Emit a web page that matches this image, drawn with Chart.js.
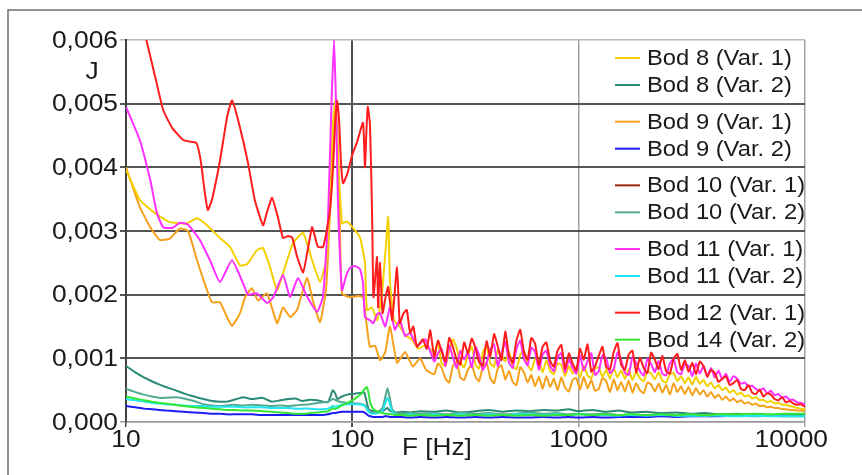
<!DOCTYPE html>
<html>
<head>
<meta charset="utf-8">
<script src="https://cdn.jsdelivr.net/npm/chart.js@4.4.1/dist/chart.umd.min.js"></script>
<style>
  html, body { margin: 0; padding: 0; background: #fff; }
  #wrap { width: 862px; height: 475px; }
</style>
</head>
<body>
<div id="wrap"><canvas id="spectrum" width="862" height="475"></canvas></div>
<script>
// axis ticks
const Y_TICKS = [0, 0.001, 0.002, 0.003, 0.004, 0.005, 0.006];
const X_TICKS = [10, 100, 1000, 10000];

const LABELS = [
    'Bod 8 (Var. 1)', 'Bod 8 (Var. 2)',
    'Bod 9 (Var. 1)', 'Bod 9 (Var. 2)',
    'Bod 10 (Var. 1)', 'Bod 10 (Var. 2)',
    'Bod 11 (Var. 1)', 'Bod 11 (Var. 2)',
    'Bod 12 (Var. 1)', 'Bod 14 (Var. 2)'
];
const COLORS = [
    '#f4d000', '#2a8a76',
    '#f6a11c', '#1c1cf2',
    '#9c2a10', '#52aa90',
    '#ff30ff', '#22e6f2',
    '#ff1c1c', '#36e636'
];
// drawing order, 0 = on top
const ORDER = [2, 8, 3, 9, 4, 7, 1, 6, 0, 5];

// shared grid for the noisy part of the loud series (Hz)
const HIGH_FREQ = [
    230, 239, 248, 258, 268, 278, 289, 300, 312, 324,
    337, 350, 363, 377, 392, 407, 423, 439, 456, 474,
    492, 511, 531, 552, 573, 595, 618, 642, 667, 693,
    720, 748, 777, 807, 838, 871, 905, 940, 976, 1014,
    1053, 1094, 1137, 1181, 1227, 1274, 1324, 1375, 1428, 1484,
    1541, 1601, 1663, 1728, 1795, 1864, 1937, 2012, 2090, 2171,
    2255, 2343, 2434, 2528, 2626, 2728, 2834, 2944, 3058, 3177,
    3300, 3428, 3561, 3699, 3843, 3992, 4147, 4308, 4475, 4649,
    4829, 5017, 5211, 5414, 5624, 5842, 6069, 6304, 6549, 6803,
    7067, 7342, 7627, 7923, 8230, 8550, 8882, 9226, 9584, 10000
];

// Bod 12 (Var. 1)
const RED_LOW_F = [
    10, 11, 12.3, 13.5, 14.6, 16, 17.9, 19.5, 20.5, 21.4,
    22.3, 23, 24, 26, 28, 29.4, 31.5, 34.6, 37, 40.3,
    42, 44.2, 47, 49.4, 52, 54.2, 57, 60.6, 63.5, 66.4,
    68.5, 70.5, 74.2, 77, 79.7, 82.2, 84, 85.8, 87.5, 89,
    91, 95, 100, 105, 111.5, 113.7, 115.5, 117, 119.5, 121,
    122.4, 124, 128.5, 130, 132.5, 136, 140, 144, 150, 157.5,
    162, 168, 174, 180, 186, 193, 205, 213, 221
];
const RED_LOW_J = [
    0.0072, 0.0067, 0.0060, 0.0054, 0.0049, 0.00462, 0.00443, 0.00440, 0.00438, 0.00410,
    0.00360, 0.00333, 0.00350, 0.00410, 0.00480, 0.00505, 0.00470, 0.00407, 0.00350, 0.00309,
    0.00330, 0.00352, 0.00320, 0.00289, 0.00292, 0.00290, 0.00260, 0.00235, 0.00270, 0.00306,
    0.00290, 0.00275, 0.00275, 0.00300, 0.00333, 0.00400, 0.00470, 0.00505, 0.00470, 0.00410,
    0.00375, 0.00390, 0.00420, 0.00440, 0.00470, 0.00400, 0.00460, 0.00495, 0.00470, 0.00400,
    0.00317, 0.00196, 0.00259, 0.00180, 0.00250, 0.00171, 0.00195, 0.00212, 0.00160, 0.00243,
    0.00155, 0.00170, 0.00176, 0.00140, 0.00150, 0.00118, 0.00130, 0.00115, 0.00144
];
const RED_HIGH_J = [
    0.00102, 0.00128, 0.00111, 0.00095, 0.00132, 0.00118, 0.00098, 0.00090, 0.00125, 0.00108,
    0.00131, 0.00116, 0.00094, 0.00089, 0.00127, 0.00103, 0.00138, 0.00119, 0.00097, 0.00142,
    0.00105, 0.00093, 0.00128, 0.00145, 0.00110, 0.00098, 0.00132, 0.00123, 0.00089, 0.00118,
    0.00125, 0.00096, 0.00087, 0.00112, 0.00121, 0.00084, 0.00108, 0.00092, 0.00081, 0.00115,
    0.00098, 0.00122, 0.00079, 0.00088, 0.00104, 0.00118, 0.00086, 0.00083, 0.00110, 0.00124,
    0.00090, 0.00082, 0.00106, 0.00112, 0.00078, 0.00101, 0.00085, 0.00077, 0.00109, 0.00098,
    0.00083, 0.00104, 0.00080, 0.00076, 0.00099, 0.00107, 0.00082, 0.00097, 0.00079, 0.00093,
    0.00075, 0.00095, 0.00088, 0.00071, 0.00082, 0.00077, 0.00063, 0.00068, 0.00072, 0.00058,
    0.00061, 0.00066, 0.00052, 0.00050, 0.00058, 0.00046, 0.00044, 0.00051, 0.00040, 0.00045,
    0.00043, 0.00036, 0.00034, 0.00039, 0.00031, 0.00033, 0.00029, 0.00027, 0.00028, 0.00024
];

// Bod 11 (Var. 1)
const MAG_LOW_F = [
    10, 11.5, 12.8, 13.7, 14.6, 16.1, 17.3, 18.8, 21.2, 23.5,
    26, 29.4, 32.9, 34.6, 37.9, 42, 44.6, 49.4, 53.1, 57.5,
    63.1, 69.8, 74.2, 78.1, 80.9, 83, 84.7, 86.3, 90, 94,
    97.7, 102.8, 108.1, 111.5, 113.7, 119.5, 123.6, 128.9, 132.6, 139.8,
    146.7, 154, 162, 171, 180, 193, 210
];
const MAG_LOW_J = [
    0.00495, 0.00443, 0.00380, 0.00328, 0.00306, 0.00305, 0.00313, 0.00310, 0.00286, 0.00254,
    0.00220, 0.00254, 0.00218, 0.00200, 0.00202, 0.00187, 0.00195, 0.00231, 0.00196, 0.00226,
    0.00197, 0.00173, 0.00197, 0.00322, 0.00500, 0.00600, 0.00500, 0.00350, 0.00207, 0.00230,
    0.00242, 0.00245, 0.00240, 0.00218, 0.00165, 0.00160, 0.00155, 0.00170, 0.00171, 0.00150,
    0.00180, 0.00145, 0.00160, 0.00135, 0.00140, 0.00120, 0.00130
];
const MAG_HIGH_J = [
    0.00095, 0.00108, 0.00115, 0.00088, 0.00120, 0.00102, 0.00085, 0.00112, 0.00098, 0.00110,
    0.00086, 0.00118, 0.00105, 0.00082, 0.00093, 0.00114, 0.00122, 0.00088, 0.00108, 0.00126,
    0.00094, 0.00085, 0.00115, 0.00128, 0.00099, 0.00089, 0.00117, 0.00110, 0.00082, 0.00106,
    0.00112, 0.00088, 0.00080, 0.00102, 0.00108, 0.00078, 0.00098, 0.00085, 0.00076, 0.00104,
    0.00081, 0.00095, 0.00108, 0.00074, 0.00080, 0.00105, 0.00100, 0.00077, 0.00083, 0.00109,
    0.00097, 0.00077, 0.00074, 0.00102, 0.00093, 0.00080, 0.00073, 0.00099, 0.00091, 0.00078,
    0.00096, 0.00076, 0.00073, 0.00092, 0.00099, 0.00078, 0.00075, 0.00091, 0.00088, 0.00072,
    0.00092, 0.00076, 0.00088, 0.00072, 0.00085, 0.00070, 0.00081, 0.00067, 0.00076, 0.00063,
    0.00072, 0.00068, 0.00060, 0.00062, 0.00056, 0.00057, 0.00052, 0.00049, 0.00053, 0.00045,
    0.00049, 0.00042, 0.00044, 0.00038, 0.00040, 0.00035, 0.00035, 0.00031, 0.00030, 0.00028
];

// Bod 8 (Var. 1)
const YEL_LOW_F = [
    10, 11.5, 13.2, 15.6, 18.6, 20.6, 22.8, 26, 28.8, 31.9,
    34.3, 37.9, 40.3, 43.3, 46.5, 49.4, 54.7, 60.6, 66.4, 72,
    77.3, 79.7, 82.2, 84.2, 86.3, 90, 94.8, 100, 108.1, 113.7,
    116, 122, 128.9, 135, 141, 144, 146.7, 152.7, 162, 173,
    183, 195, 210
];
const YEL_LOW_J = [
    0.00396, 0.00349, 0.00330, 0.00314, 0.00312, 0.00320, 0.00309, 0.00289, 0.00275, 0.00246,
    0.00248, 0.00270, 0.00273, 0.00243, 0.00207, 0.00234, 0.00281, 0.00297, 0.00254, 0.00220,
    0.00260, 0.00360, 0.00470, 0.00505, 0.00420, 0.00312, 0.00315, 0.00306, 0.00290, 0.00250,
    0.00176, 0.00180, 0.00160, 0.00200, 0.00280, 0.00322, 0.00220, 0.00160, 0.00150, 0.00135,
    0.00130, 0.00115, 0.00120
];
const YEL_HIGH_J = [
    0.00110, 0.00125, 0.00092, 0.00088, 0.00112, 0.00130, 0.00116, 0.00094, 0.00086, 0.00105,
    0.00118, 0.00090, 0.00084, 0.00109, 0.00120, 0.00092, 0.00087, 0.00113, 0.00104, 0.00095,
    0.00110, 0.00088, 0.00083, 0.00105, 0.00112, 0.00090, 0.00081, 0.00099, 0.00096, 0.00078,
    0.00097, 0.00080, 0.00075, 0.00092, 0.00090, 0.00072, 0.00088, 0.00076, 0.00086, 0.00070,
    0.00089, 0.00073, 0.00069, 0.00084, 0.00086, 0.00071, 0.00082, 0.00068, 0.00085, 0.00070,
    0.00081, 0.00068, 0.00083, 0.00066, 0.00079, 0.00069, 0.00064, 0.00080, 0.00076, 0.00067,
    0.00078, 0.00065, 0.00062, 0.00075, 0.00077, 0.00064, 0.00072, 0.00061, 0.00070, 0.00059,
    0.00071, 0.00060, 0.00066, 0.00056, 0.00062, 0.00053, 0.00058, 0.00050, 0.00054, 0.00046,
    0.00050, 0.00043, 0.00046, 0.00040, 0.00042, 0.00037, 0.00039, 0.00034, 0.00035, 0.00031,
    0.00033, 0.00029, 0.00030, 0.00027, 0.00027, 0.00025, 0.00024, 0.00022, 0.00021, 0.00020
];

// Bod 9 (Var. 1)
const ORG_LOW_F = [
    10, 11.5, 12.8, 14.1, 15.6, 17.3, 18.8, 20.6, 22.8, 24,
    26, 27.9, 29.4, 31.9, 33.6, 36, 38.3, 42, 46.5, 49.4,
    53.1, 57, 63.1, 67, 72, 76.6, 79.7, 82.2, 84.2, 85.8,
    87.6, 90, 97.7, 106, 111.5, 115, 119.5, 126, 132.6, 139.8,
    146.7, 157.5, 171, 185, 199, 212
];
const ORG_LOW_J = [
    0.00400, 0.00338, 0.00306, 0.00286, 0.00288, 0.00304, 0.00300, 0.00254, 0.00207, 0.00188,
    0.00188, 0.00165, 0.00151, 0.00171, 0.00196, 0.00210, 0.00191, 0.00202, 0.00155, 0.00180,
    0.00165, 0.00176, 0.00226, 0.00190, 0.00157, 0.00210, 0.00330, 0.00440, 0.00490, 0.00460,
    0.00350, 0.00202, 0.00196, 0.00198, 0.00196, 0.00160, 0.00118, 0.00120, 0.00097, 0.00110,
    0.00150, 0.00093, 0.00110, 0.00087, 0.00100, 0.00082
];
const ORG_HIGH_J = [
    0.00075, 0.00092, 0.00085, 0.00068, 0.00062, 0.00088, 0.00095, 0.00070, 0.00066, 0.00082,
    0.00090, 0.00071, 0.00064, 0.00086, 0.00093, 0.00069, 0.00061, 0.00084, 0.00089, 0.00067,
    0.00080, 0.00063, 0.00058, 0.00086, 0.00078, 0.00062, 0.00074, 0.00056, 0.00071, 0.00052,
    0.00072, 0.00055, 0.00068, 0.00050, 0.00070, 0.00054, 0.00048, 0.00066, 0.00069, 0.00051,
    0.00071, 0.00053, 0.00066, 0.00049, 0.00052, 0.00069, 0.00064, 0.00047, 0.00067, 0.00050,
    0.00063, 0.00048, 0.00065, 0.00046, 0.00061, 0.00050, 0.00045, 0.00062, 0.00059, 0.00048,
    0.00060, 0.00046, 0.00058, 0.00043, 0.00061, 0.00047, 0.00056, 0.00044, 0.00055, 0.00042,
    0.00053, 0.00043, 0.00050, 0.00040, 0.00047, 0.00038, 0.00043, 0.00035, 0.00040, 0.00033,
    0.00037, 0.00031, 0.00034, 0.00029, 0.00031, 0.00027, 0.00029, 0.00025, 0.00026, 0.00023,
    0.00024, 0.00022, 0.00022, 0.00020, 0.00020, 0.00019, 0.00019, 0.00018, 0.00018, 0.00017
];

// grid for the quiet (Var. 2) series (Hz)
const Q_FREQ = [
    10, 11, 12, 13, 14, 15, 16.5, 18, 20, 22,
    24, 26, 28, 30, 33, 36, 40, 44, 48, 52,
    56, 60, 65, 70, 74, 78, 80, 82, 84, 86,
    90, 95, 100, 105, 110, 113, 116, 118, 120, 124,
    130, 136, 140, 143, 146, 150, 156, 165, 180, 200,
    230, 260, 300, 350, 400, 460, 530, 610, 700, 800,
    900, 1000, 1150, 1300, 1500, 1700, 2000, 2300, 2700, 3100,
    3600, 4200, 5000, 6000, 7000, 8000, 9000, 10000
];
// Bod 8 (Var. 2)
const TEAL_J = [
    0.00088, 0.00078, 0.00070, 0.00064, 0.00059, 0.00055, 0.00050, 0.00045, 0.00040, 0.00036,
    0.00033, 0.00032, 0.00032, 0.00035, 0.00039, 0.00036, 0.00038, 0.00032, 0.00034, 0.00036,
    0.00037, 0.00033, 0.00035, 0.00034, 0.00032, 0.00031, 0.00040, 0.00050, 0.00045, 0.00036,
    0.00040, 0.00043, 0.00044, 0.00045, 0.00046, 0.00046, 0.00030, 0.00020, 0.00018, 0.00017,
    0.00016, 0.00017, 0.00020, 0.00022, 0.00018, 0.00016, 0.00015, 0.00016, 0.00015, 0.00017,
    0.00016, 0.00018, 0.00015, 0.00017, 0.00019, 0.00016, 0.00018, 0.00017, 0.00019, 0.00018,
    0.00020, 0.00017, 0.00019, 0.00016, 0.00018, 0.00015, 0.00016, 0.00014, 0.00015, 0.00013,
    0.00014, 0.00012, 0.00013, 0.00012, 0.00011, 0.00012, 0.00011, 0.00010
];
// Bod 10 (Var. 2)
const SEA_J = [
    0.00052, 0.00047, 0.00043, 0.00040, 0.00038, 0.00038, 0.00039, 0.00037, 0.00033, 0.00028,
    0.00026, 0.00025, 0.00026, 0.00027, 0.00026, 0.00027, 0.00026, 0.00025, 0.00026, 0.00025,
    0.00026, 0.00027, 0.00028, 0.00030, 0.00031, 0.00032, 0.00034, 0.00036, 0.00035, 0.00033,
    0.00031, 0.00030, 0.00030, 0.00029, 0.00028, 0.00027, 0.00022, 0.00018, 0.00016, 0.00015,
    0.00016, 0.00022, 0.00040, 0.00053, 0.00040, 0.00020, 0.00014, 0.00013, 0.00014, 0.00013,
    0.00014, 0.00012, 0.00015, 0.00013, 0.00014, 0.00012, 0.00013, 0.00015, 0.00013, 0.00014,
    0.00012, 0.00013, 0.00012, 0.00013, 0.00011, 0.00012, 0.00011, 0.00012, 0.00010, 0.00011,
    0.00010, 0.00011, 0.00010, 0.00009, 0.00010, 0.00009, 0.00009, 0.00009
];
// Bod 11 (Var. 2)
const CYAN_J = [
    0.00036, 0.00034, 0.00032, 0.00030, 0.00029, 0.00028, 0.00027, 0.00026, 0.00025, 0.00025,
    0.00024, 0.00024, 0.00024, 0.00024, 0.00023, 0.00023, 0.00023, 0.00022, 0.00022, 0.00022,
    0.00021, 0.00021, 0.00021, 0.00020, 0.00020, 0.00021, 0.00023, 0.00025, 0.00024, 0.00025,
    0.00027, 0.00028, 0.00028, 0.00028, 0.00027, 0.00026, 0.00020, 0.00016, 0.00014, 0.00013,
    0.00014, 0.00018, 0.00030, 0.00038, 0.00030, 0.00016, 0.00012, 0.00011, 0.00012, 0.00011,
    0.00012, 0.00011, 0.00012, 0.00011, 0.00012, 0.00011, 0.00012, 0.00012, 0.00011, 0.00012,
    0.00011, 0.00012, 0.00011, 0.00011, 0.00010, 0.00011, 0.00010, 0.00011, 0.00010, 0.00010,
    0.00010, 0.00010, 0.00009, 0.00010, 0.00009, 0.00009, 0.00009, 0.00009
];
// Bod 14 (Var. 2)
const GREEN_J = [
    0.00040, 0.00037, 0.00034, 0.00032, 0.00030, 0.00029, 0.00027, 0.00025, 0.00023, 0.00022,
    0.00021, 0.00020, 0.00019, 0.00019, 0.00018, 0.00018, 0.00017, 0.00016, 0.00015, 0.00014,
    0.00013, 0.00013, 0.00014, 0.00015, 0.00016, 0.00017, 0.00019, 0.00022, 0.00020, 0.00022,
    0.00026, 0.00030, 0.00034, 0.00039, 0.00045, 0.00051, 0.00055, 0.00045, 0.00030, 0.00020,
    0.00016, 0.00014, 0.00013, 0.00013, 0.00012, 0.00012, 0.00011, 0.00011, 0.00010, 0.00011,
    0.00010, 0.00011, 0.00010, 0.00011, 0.00010, 0.00011, 0.00010, 0.00011, 0.00010, 0.00011,
    0.00011, 0.00012, 0.00011, 0.00012, 0.00011, 0.00012, 0.00011, 0.00012, 0.00011, 0.00012,
    0.00011, 0.00012, 0.00012, 0.00013, 0.00012, 0.00013, 0.00013, 0.00013
];
// Bod 9 (Var. 2)
const BLUE_J = [
    0.00025, 0.00023, 0.00021, 0.00020, 0.00019, 0.00018, 0.00017, 0.00016, 0.00015, 0.00014,
    0.00013, 0.00013, 0.00012, 0.00012, 0.00012, 0.00012, 0.00011, 0.00011, 0.00011, 0.00011,
    0.00011, 0.00011, 0.00011, 0.00011, 0.00011, 0.00012, 0.00013, 0.00014, 0.00014, 0.00015,
    0.00016, 0.00016, 0.00016, 0.00016, 0.00016, 0.00015, 0.00012, 0.00010, 0.00009, 0.00008,
    0.00008, 0.00008, 0.00009, 0.00009, 0.00008, 0.00008, 0.00008, 0.00008, 0.00007, 0.00008,
    0.00007, 0.00008, 0.00007, 0.00008, 0.00007, 0.00008, 0.00007, 0.00007, 0.00008, 0.00007,
    0.00008, 0.00007, 0.00008, 0.00007, 0.00008, 0.00008, 0.00008, 0.00009, 0.00008, 0.00009,
    0.00009, 0.00009, 0.00010, 0.00010, 0.00010, 0.00011, 0.00011, 0.00011
];
// Bod 10 (Var. 1) is listed in the legend but its curve is not visible in the picture
const BROWN_F = [];
const BROWN_J = [];

function pairs(fs, js) {
    return fs.map((f, i) => ({ x: f, y: js[i] }));
}

const SERIES = [
    pairs(YEL_LOW_F.concat(HIGH_FREQ), YEL_LOW_J.concat(YEL_HIGH_J)),
    pairs(Q_FREQ, TEAL_J),
    pairs(ORG_LOW_F.concat(HIGH_FREQ), ORG_LOW_J.concat(ORG_HIGH_J)),
    pairs(Q_FREQ, BLUE_J),
    pairs(BROWN_F, BROWN_J),
    pairs(Q_FREQ, SEA_J),
    pairs(MAG_LOW_F.concat(HIGH_FREQ), MAG_LOW_J.concat(MAG_HIGH_J)),
    pairs(Q_FREQ, CYAN_J),
    pairs(RED_LOW_F.concat(HIGH_FREQ), RED_LOW_J.concat(RED_HIGH_J)),
    pairs(Q_FREQ, GREEN_J)
];

const FONT = '"Liberation Sans", Arial, sans-serif';

function stretchedText(ctx, text, x, y, align, sx) {
    ctx.save();
    ctx.translate(x, y);
    ctx.scale(sx, 1);
    ctx.textAlign = align;
    ctx.fillText(text, 0, 0);
    ctx.restore();
}

const decorations = {
    id: 'decorations',
    afterDraw(chart) {
        const ctx = chart.ctx;
        const area = chart.chartArea;
        const xs = chart.scales.x;
        const ys = chart.scales.y;
        ctx.save();

        // outer frame (top and left edges show)
        ctx.strokeStyle = '#6e6e6e';
        ctx.lineWidth = 1.5;
        ctx.beginPath();
        ctx.moveTo(8, chart.height);
        ctx.lineTo(8, 10);
        ctx.lineTo(chart.width, 10);
        ctx.stroke();

        ctx.fillStyle = '#1a1a1a';
        ctx.font = '24px ' + FONT;
        ctx.textBaseline = 'middle';
        ys.ticks.forEach(t => {
            const label = t.value.toFixed(3).replace('.', ',');
            stretchedText(ctx, label, area.left - 8, ys.getPixelForValue(t.value) + 1, 'right', 1.1);
        });
        xs.ticks.forEach(t => {
            const label = String(t.value);
            const w = ctx.measureText(label).width * 1.1;
            const cx = Math.min(xs.getPixelForValue(t.value), chart.width - 34 - w / 2);
            stretchedText(ctx, label, cx, area.bottom + 18, 'center', 1.1);
        });

        // axis titles
        stretchedText(ctx, 'J', area.left - 34, area.top + 32, 'center', 1.1);
        ctx.textBaseline = 'alphabetic';
        stretchedText(ctx, 'F [Hz]', 402, area.bottom + 33, 'left', 1.09);

        // legend, two entries per grid band
        ctx.font = '22px ' + FONT;
        ctx.textBaseline = 'middle';
        chart.data.datasets.forEach((ds, i) => {
            const band = Math.floor(i / 2);
            const top = ys.getPixelForValue(Y_TICKS[Y_TICKS.length - 1 - band]);
            const y = top + (i % 2 ? 45 : 18);
            ctx.strokeStyle = ds.borderColor;
            ctx.lineWidth = 2;
            ctx.beginPath();
            ctx.moveTo(615, y);
            ctx.lineTo(640, y);
            ctx.stroke();
            stretchedText(ctx, ds.label, 647, y + 1, 'left', 1.08);
        });
        ctx.restore();
    }
};

function gridColor(ctx, axis) {
    const v = ctx.tick ? ctx.tick.value : null;
    if (axis === 'y') {
        if (v === 0) return '#9a9a9a';
        if (Math.abs(v - 0.006) < 1e-9) return '#b8b8b8';
        return '#555555';
    }
    if (v === 10) return '#404040';
    if (v === 100) return '#505050';
    return '#a0a0a0';
}

new Chart(document.getElementById('spectrum'), {
    type: 'line',
    data: {
        datasets: SERIES.map((data, i) => ({
            label: LABELS[i],
            data: data,
            borderColor: COLORS[i],
            backgroundColor: COLORS[i],
            borderWidth: 2,
            pointRadius: 0,
            fill: false,
            tension: 0.15,
            order: ORDER[i]
        }))
    },
    options: {
        responsive: false,
        animation: false,
        events: [],
        layout: { padding: { top: 40, right: 57, left: 0, bottom: 0 } },
        plugins: {
            legend: { display: false },
            tooltip: { enabled: false },
            title: { display: false }
        },
        scales: {
            x: {
                type: 'logarithmic',
                min: 10,
                max: 10000,
                afterBuildTicks: scale => { scale.ticks = X_TICKS.map(v => ({ value: v })); },
                afterFit: scale => { scale.height = 53; },
                ticks: { color: 'rgba(0,0,0,0)', font: { size: 10 }, callback: v => String(v), maxRotation: 0 },
                grid: {
                    color: c => gridColor(c, 'x'),
                    lineWidth: c => (c.tick && c.tick.value === 100 ? 2 : 1.5),
                    tickLength: 5
                },
                border: { color: '#9a9a9a', width: 1.5 }
            },
            y: {
                type: 'linear',
                min: 0,
                max: 0.006,
                afterBuildTicks: scale => { scale.ticks = Y_TICKS.map(v => ({ value: v })); },
                afterFit: scale => { scale.width = 126; },
                ticks: { color: 'rgba(0,0,0,0)', font: { size: 10 } },
                grid: {
                    color: c => gridColor(c, 'y'),
                    lineWidth: c => {
                        const v = c.tick ? c.tick.value : 0;
                        return (v === 0 || Math.abs(v - 0.006) < 1e-9) ? 1.5 : 2;
                    },
                    tickLength: 6
                },
                border: { color: '#404040', width: 2 }
            }
        }
    },
    plugins: [decorations]
});
</script>
</body>
</html>
